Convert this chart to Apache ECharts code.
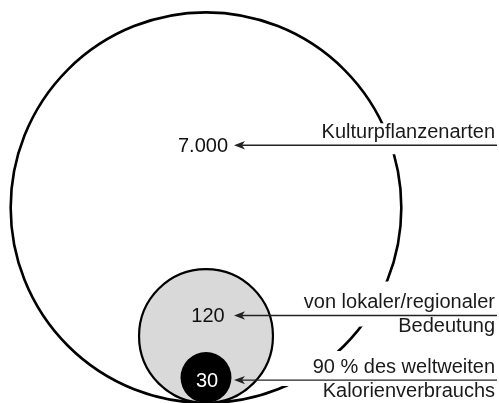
<!DOCTYPE html>
<html>
<head>
<meta charset="utf-8">
<script src="https://cdn.jsdelivr.net/npm/echarts@6/dist/echarts.min.js"></script>
<style>
  html, body { margin: 0; padding: 0; background: #fff; }
  #main { width: 499px; height: 403px; }
</style>
</head>
<body>
<div id="main"></div>
<script>
// Anzahl Kulturpflanzenarten je Gruppe
const cropValues = [7000, 120, 30]
// Beschriftungen rechts, eine Zeile pro Eintrag
const cropLabels = [
  ['Kulturpflanzenarten'],
  ['von lokaler/regionaler', 'Bedeutung'],
  ['90 % des weltweiten', 'Kalorienverbrauchs']
]

// Kreisradien in px (im Original nicht flächenproportional)
const radii = [196.3, 67.3, 25.6]
const fills = ['#ffffff', '#d9d9d9', '#000000']
const strokeWidths = [2.6, 2.2, 0]
const valueColors = ['#111111', '#111111', '#ffffff']
// Verschiebung der Zahl gegenüber der Kreismitte
const valueShift = [-3, 2, 1]
// Höhe der Pfeillinie über der gemeinsamen Grundlinie
const arrowHeights = [259, 88, 23]
// weiße Fläche hinter der Beschriftung: [links, oben, unten] relativ zur Pfeillinie
const gapBoxes = [[154, -22, 9], [124, -34, 11], [76, -29, 6]]

const FONT = '20px "Liberation Sans", Arial, sans-serif'

function formatValue(v) {
  // deutsche Tausendertrennung
  return String(v).replace(/\B(?=(\d{3})+(?!\d))/g, '.')
}

const chart = echarts.init(document.getElementById('main'))

function renderItem(params, api) {
  const i = params.dataIndex
  const r = api.value(1)
  const center = api.coord([api.value(0), r])
  const rPx = api.size([r, r])[1]
  const lineY = api.coord([0, arrowHeights[i]])[1]
  const tip = api.coord([29, 0])[0]
  const end = api.coord([291, 0])[0]
  const textRight = api.coord([289, 0])[0]
  const box = gapBoxes[i]
  const boxLeft = api.coord([box[0], 0])[0]

  const children = [
    {
      type: 'circle',
      shape: { cx: center[0], cy: center[1], r: rPx },
      style: { fill: fills[i], stroke: '#000', lineWidth: strokeWidths[i] }
    },
    {
      type: 'rect',
      shape: { x: boxLeft, y: lineY + box[1], width: 520 - boxLeft, height: box[2] - box[1] },
      style: { fill: '#fff' }
    },
    {
      type: 'line',
      shape: { x1: tip + 6, y1: lineY, x2: end, y2: lineY },
      style: { stroke: '#222', lineWidth: 1.4 }
    },
    {
      type: 'polygon',
      shape: { points: [[tip - 1, lineY], [tip + 10, lineY - 4.2], [tip + 7, lineY], [tip + 10, lineY + 4.2]] },
      style: { fill: '#222' }
    },
    {
      type: 'text',
      style: {
        text: formatValue(api.value(2)),
        x: center[0] + valueShift[i],
        y: lineY + 1,
        align: 'center',
        verticalAlign: 'middle',
        fill: valueColors[i],
        font: FONT
      }
    }
  ]

  cropLabels[i].forEach((line, k) => {
    children.push({
      type: 'text',
      style: {
        text: line,
        x: textRight,
        y: k === 0 ? lineY - 13 : lineY + 11,
        align: 'right',
        verticalAlign: 'middle',
        fill: '#1a1a1a',
        font: FONT
      }
    })
  })

  return { type: 'group', children: children }
}

const seriesData = cropValues.map((v, i) => {
  return { value: [0, radii[i], v] }
})

const option = {
  animation: false,
  grid: { left: 0, right: 0, top: 0, bottom: -2 },
  xAxis: { type: 'value', min: -206, max: 293, show: false },
  yAxis: { type: 'value', min: 0, max: 405, show: false },
  series: [
    {
      type: 'custom',
      renderItem: renderItem,
      clip: false,
      data: seriesData
    }
  ]
}
chart.setOption(option)
</script>
</body>
</html>
